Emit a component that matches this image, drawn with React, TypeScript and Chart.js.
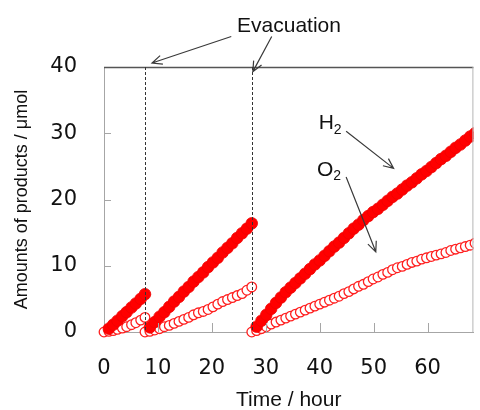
import React, { useEffect, useRef } from "react";
import { Chart, registerables } from "chart.js";

Chart.register(...registerables);

// Sampling times (hours); segments restart after each evacuation
const timeHours = [
  0, 0.9, 1.7, 2.5, 3.4, 4.2, 5.1, 5.9, 6.8, 7.6,
  7.6, 8.5, 9.4, 10.3, 11.2, 12.1, 13.0, 13.9, 14.8, 15.7, 16.6, 17.5, 18.4, 19.3, 20.2, 21.1, 22.0, 22.9, 23.8, 24.7, 25.6, 26.5, 27.4,
  27.4, 28.3, 29.2, 30.1, 31.0, 31.9, 32.8, 33.7, 34.6, 35.5, 36.4, 37.3, 38.2, 39.1, 40.0, 40.9, 41.8, 42.7, 43.6, 44.5, 45.4, 46.3,
  47.2, 48.1, 49.0, 49.9, 50.8, 51.7, 52.6, 53.5, 54.4, 55.3, 56.2, 57.1, 58.0, 58.9, 59.8, 60.7, 61.6, 62.5, 63.4, 64.3, 65.2, 66.1,
  67.0, 67.9, 68.8,
];

// H2 amounts (µmol); the zero point at each segment start is hidden under the O2 marker
const h2Amounts: (number | null)[] = [
  null, 0.5, 1.1, 1.7, 2.4, 3.0, 3.7, 4.3, 5.0, 5.7,
  null, 0.7, 1.5, 2.3, 3.0, 3.8, 4.6, 5.3, 6.1, 6.8, 7.6, 8.3, 9.0, 9.8, 10.5, 11.2, 12.0, 12.7, 13.4, 14.2, 14.9, 15.6, 16.4,
  null, 0.8, 1.7, 2.6, 3.5, 4.4, 5.2, 6.0, 6.7, 7.4, 8.1, 8.8, 9.5, 10.2, 10.8, 11.5, 12.2, 12.9, 13.5, 14.2, 14.9, 15.6,
  16.2, 16.9, 17.5, 18.1, 18.6, 19.2, 19.8, 20.4, 20.9, 21.5, 22.1, 22.6, 23.2, 23.8, 24.3, 24.9, 25.5, 26.1, 26.6, 27.2,
  27.8, 28.3, 28.9, 29.5, 30.0,
];

// O2 amounts (µmol)
const o2Amounts = [
  0, 0.1, 0.2, 0.4, 0.6, 0.8, 1.1, 1.4, 1.8, 2.2,
  0, 0.1, 0.3, 0.5, 0.8, 1.0, 1.3, 1.6, 1.9, 2.2, 2.6, 2.9, 3.1, 3.4, 3.8, 4.2, 4.6, 4.9, 5.2, 5.5, 5.8, 6.3, 6.8,
  0, 0.2, 0.5, 0.8, 1.2, 1.5, 1.8, 2.1, 2.4, 2.7, 3.0, 3.3, 3.6, 3.9, 4.2, 4.5, 4.8, 5.1, 5.4, 5.8, 6.1, 6.5,
  6.9, 7.2, 7.6, 8.0, 8.3, 8.7, 9.0, 9.4, 9.7, 9.9, 10.2, 10.5, 10.7, 11.0, 11.2, 11.4, 11.6, 11.8, 12.0, 12.3,
  12.5, 12.7, 12.9, 13.1, 13.4,
];

const evacuationTimes = [7.6, 27.45];
const xTickValues = [10, 20, 30, 40, 50, 60];
const yTickValues = [10, 20, 30];

function drawArrow(ctx: CanvasRenderingContext2D, x1: number, y1: number, x2: number, y2: number) {
  const ang = Math.atan2(y2 - y1, x2 - x1);
  const len = 11;
  const spread = 0.42;
  ctx.beginPath();
  ctx.moveTo(x1, y1);
  ctx.lineTo(x2, y2);
  ctx.moveTo(x2 - len * Math.cos(ang - spread), y2 - len * Math.sin(ang - spread));
  ctx.lineTo(x2, y2);
  ctx.lineTo(x2 - len * Math.cos(ang + spread), y2 - len * Math.sin(ang + spread));
  ctx.stroke();
}

export default function App() {
  const ref = useRef<HTMLCanvasElement>(null);

  useEffect(() => {
    const canvas = ref.current;
    if (!canvas) return;
    const ctx = canvas.getContext("2d");
    if (!ctx) return;

    const pts = (vals: (number | null)[]) =>
      timeHours.map((t, i) => ({ x: t, y: vals[i] })).filter((p) => p.y !== null);

    const annot = {
      id: "annot",
      afterDatasetsDraw(chart: any) {
        const c = chart.ctx as CanvasRenderingContext2D;
        const xs = chart.scales.x;
        const ys = chart.scales.y;
        const { left, right, top, bottom } = chart.chartArea;
        const X = (v: number) => xs.getPixelForValue(v);
        const Y = (v: number) => ys.getPixelForValue(v);
        c.save();
        // frame: top & right
        c.strokeStyle = "#555";
        c.lineWidth = 1.5;
        c.beginPath();
        c.moveTo(left, top + 0.5);
        c.lineTo(right, top + 0.5);
        c.stroke();
        c.strokeStyle = "#b5b5b5";
        c.lineWidth = 1;
        c.beginPath();
        c.moveTo(right - 0.5, top);
        c.lineTo(right - 0.5, bottom);
        c.stroke();
        // inner ticks
        c.strokeStyle = "#a6a6a6";
        c.beginPath();
        for (const v of yTickValues) {
          const py = Math.round(Y(v)) + 0.5;
          c.moveTo(left, py);
          c.lineTo(left + 7, py);
        }
        for (const v of xTickValues) {
          const px = Math.round(X(v)) + 0.5;
          c.moveTo(px, bottom);
          c.lineTo(px, bottom - 9);
        }
        c.stroke();
        // evacuation dashed lines
        c.strokeStyle = "#333";
        c.lineWidth = 1;
        c.setLineDash([3, 2]);
        c.beginPath();
        for (const t of evacuationTimes) {
          const px = Math.round(X(t)) + 0.5;
          c.moveTo(px, top);
          c.lineTo(px, bottom);
        }
        c.stroke();
        c.setLineDash([]);
        // arrows
        c.strokeStyle = "#3a3a3a";
        c.lineWidth = 1.2;
        drawArrow(c, X(23.6), Y(44.6), X(8.9), Y(40.6));
        drawArrow(c, X(31.1), Y(44.6), X(27.6), Y(39.3));
        drawArrow(c, X(44.9), Y(30.3), X(53.7), Y(24.7));
        drawArrow(c, X(44.9), Y(23.4), X(50.4), Y(12.1));
        // texts
        c.fillStyle = "#111";
        c.textBaseline = "alphabetic";
        c.font = "21px 'Liberation Sans', Arial, sans-serif";
        c.textAlign = "center";
        c.fillText("Evacuation", X(34.3), Y(45.3));
        c.textAlign = "left";
        const hX = X(39.8);
        const hY = Y(30.6);
        c.font = "21px 'Liberation Sans', Arial, sans-serif";
        c.fillText("H", hX, hY);
        const hw = c.measureText("H").width;
        c.font = "14px 'Liberation Sans', Arial, sans-serif";
        c.fillText("2", hX + hw, hY + 4.5);
        const oX = X(39.5);
        const oY = Y(23.6);
        c.font = "21px 'Liberation Sans', Arial, sans-serif";
        c.fillText("O", oX, oY);
        const ow = c.measureText("O").width;
        c.font = "14px 'Liberation Sans', Arial, sans-serif";
        c.fillText("2", oX + ow, oY + 4.5);
        c.restore();
      },
    };

    const clip = { left: 10, top: 10, right: 0, bottom: 10 };

    const chart = new Chart(ctx, {
      type: "scatter",
      data: {
        datasets: [
          {
            label: "H2",
            data: pts(h2Amounts),
            showLine: false,
            pointRadius: 5.8,
            pointBorderWidth: 0.8,
            pointBorderColor: "#f00000",
            pointBackgroundColor: "#ff0000",
            clip,
          } as any,
          {
            label: "O2",
            data: pts(o2Amounts),
            showLine: false,
            pointRadius: 4.8,
            pointBorderWidth: 1.3,
            pointBorderColor: "#ff2020",
            pointBackgroundColor: "#ffffff",
            clip,
          } as any,
        ],
      },
      options: {
        animation: false,
        responsive: false,
        devicePixelRatio: 1,
        events: [],
        layout: { padding: { top: 67, right: 1, left: 0, bottom: 0 } },
        plugins: { legend: { display: false }, tooltip: { enabled: false } },
        scales: {
          x: {
            type: "linear",
            min: 0,
            max: 68.5,
            afterFit: (s: any) => {
              s.height = 78;
            },
            grid: { display: false, drawTicks: false },
            border: { display: true, color: "#a6a6a6", width: 1 },
            ticks: {
              stepSize: 10,
              includeBounds: false,
              padding: 24,
              maxRotation: 0,
              autoSkip: false,
              color: "#111",
              font: { family: "'DejaVu Sans', Verdana, sans-serif", size: 21 },
            },
            title: {
              display: true,
              text: "Time / hour",
              color: "#111",
              padding: 0,
              font: { family: "'Liberation Sans', Arial, sans-serif", size: 21, lineHeight: 0.9 },
            },
          },
          y: {
            type: "linear",
            min: 0,
            max: 40,
            afterFit: (s: any) => {
              s.width = 104;
            },
            grid: { display: false, drawTicks: false },
            border: { display: true, color: "#a6a6a6", width: 1 },
            ticks: {
              stepSize: 10,
              padding: 27,
              color: "#111",
              font: { family: "'DejaVu Sans', Verdana, sans-serif", size: 21 },
            },
            title: {
              display: true,
              text: "Amounts of products / μmol",
              color: "#111",
              padding: { top: 11, bottom: 0 },
              font: { family: "'Liberation Sans', Arial, sans-serif", size: 18 },
            },
          },
        },
      } as any,
      plugins: [annot],
    });

    return () => chart.destroy();
  }, []);

  return (
    <div style={{ position: "fixed", left: 0, top: 0, width: 480, height: 410, background: "#fff" }}>
      <canvas ref={ref} width={480} height={410} style={{ display: "block", width: 480, height: 410 }} />
    </div>
  );
}
